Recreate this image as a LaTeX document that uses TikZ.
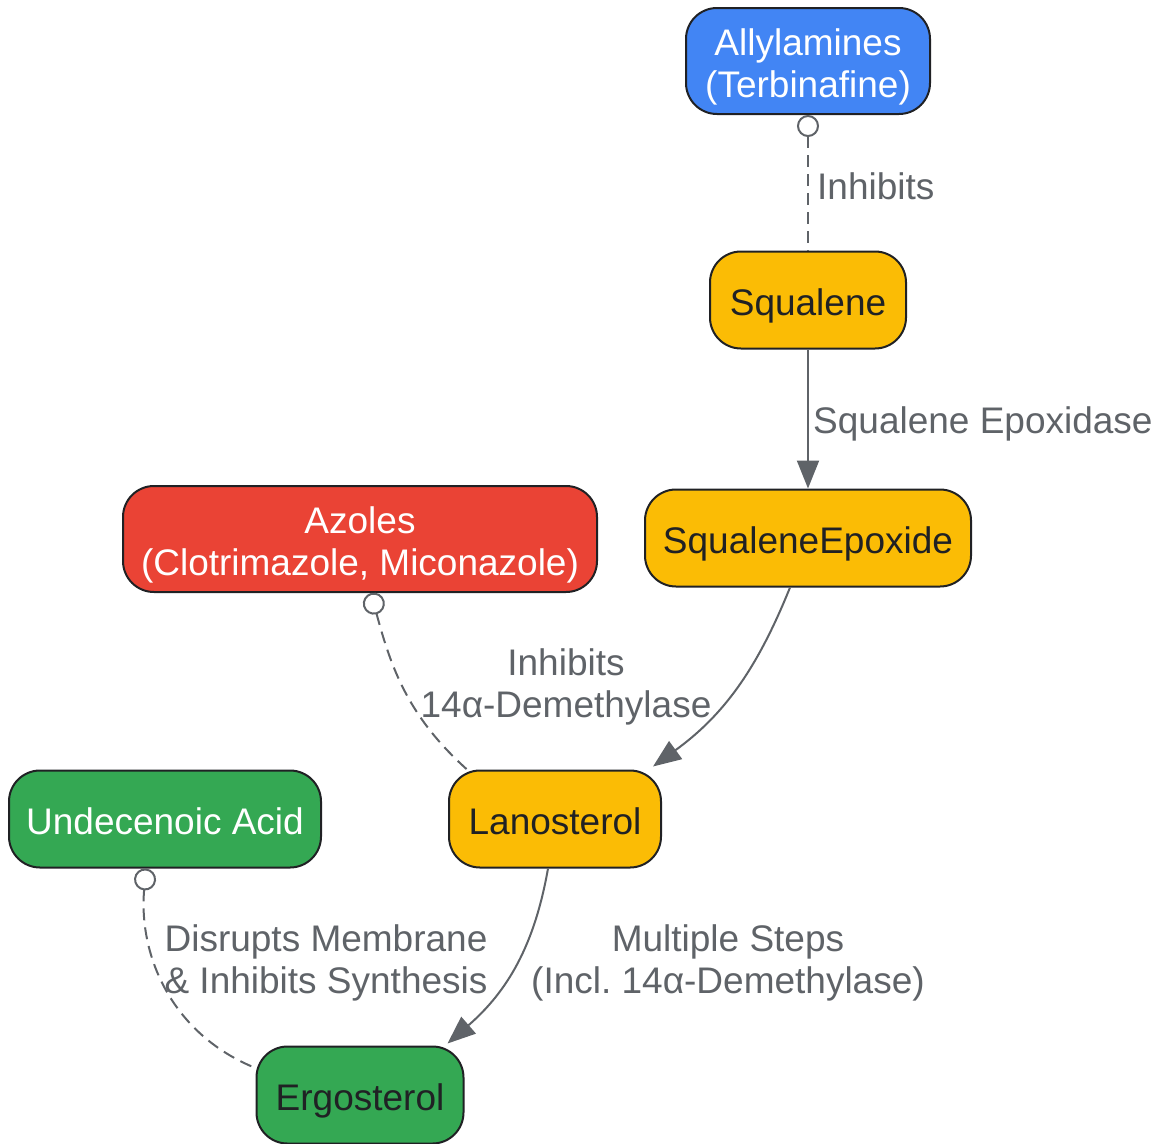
\documentclass[tikz,border=0pt]{standalone}
\usepackage{fontspec}
\setmainfont{Liberation Sans}
\usetikzlibrary{arrows.meta}
\definecolor{drugblue}{HTML}{4285F4}
\definecolor{sterolyellow}{HTML}{FBBC05}
\definecolor{azolered}{HTML}{EA4335}
\definecolor{membranegreen}{HTML}{34A853}
\definecolor{linkgray}{HTML}{5F6368}
\definecolor{inkdark}{HTML}{202124}
\frenchspacing

\begin{document}
\begin{tikzpicture}[x=1pt, y=1pt,
    box/.style={draw=inkdark, line width=2pt, rounded corners=31pt, inner sep=0pt,
      minimum height=97pt, align=center, font=\fontsize{37}{42}\selectfont, text=inkdark,
      text height=39pt, text depth=8pt},
    drug/.style={box, text=white, minimum height=106pt, text height=80pt, text depth=8pt},
    flow/.style={draw=linkgray, line width=2pt, -{Triangle[length=28pt,width=22pt]}},
    inhibit/.style={draw=linkgray, line width=2pt, dash pattern=on 12pt off 7pt,
      {Circle[open,length=22pt]}-},
    note/.style={text=linkgray, align=center, font=\fontsize{37}{42}\selectfont, inner sep=0pt}]
    \useasboundingbox (0,0) rectangle (1156,-1143);

      % Drugs
      \node[drug, fill=drugblue, minimum width=244pt] (ally) at (808,-61) {Allylamines\\(Terbinafine)};
      \node[drug, fill=azolered, minimum width=474pt] (azole) at (360,-539) {Azoles\\(Clotrimazole, Miconazole)};
      \node[box, fill=membranegreen, text=white, minimum width=312pt] (undec) at (165,-819) {Undecenoic Acid};

      % Pathway
      \node[box, fill=sterolyellow, minimum width=196pt] (squal) at (808,-300) {Squalene};
      \node[box, fill=sterolyellow, minimum width=326pt] (sqepox) at (808,-538) {SqualeneEpoxide};
      \node[box, fill=sterolyellow, minimum width=212pt] (lano) at (555,-819) {Lanosterol};
      \node[box, fill=membranegreen, minimum width=207pt] (ergo) at (360,-1095) {Ergosterol};

      % Steps
      \draw[flow] (squal) -- (sqepox);
      \draw[flow] ([xshift=-18pt]sqepox.south) to[out=-112,in=36] ([xshift=-9pt,yshift=3pt]lano.north east);
      \draw[flow] ([xshift=-7pt]lano.south) to[out=-100,in=41] ([xshift=-17pt,yshift=2pt]ergo.north east);

      % Inhibition
      \draw[inhibit] (ally) -- (squal);
      \draw[inhibit] ([xshift=11pt]azole.south) to[out=-75,in=138] ([xshift=19pt]lano.north west);
      \draw[inhibit] ([xshift=-19pt]undec.south) to[out=-95,in=158] ([yshift=27pt]ergo.west);

      % Labels
      \node[note, anchor=west] (lblally) at (817,-186) {Inhibits};
      \node[note, anchor=west] (lblepox) at (813,-424) {Squalene Epoxidase};
      \node[note] (lblazole) at (566,-687) {Inhibits\\14α-Demethylase};
      \node[note] (lblsteps) at (728,-963) {Multiple Steps\\(Incl. 14α-Demethylase)};
      \node[note] (lblundec) at (326,-963) {Disrupts Membrane\\\& Inhibits Synthesis};
  \end{tikzpicture}
\end{document}
